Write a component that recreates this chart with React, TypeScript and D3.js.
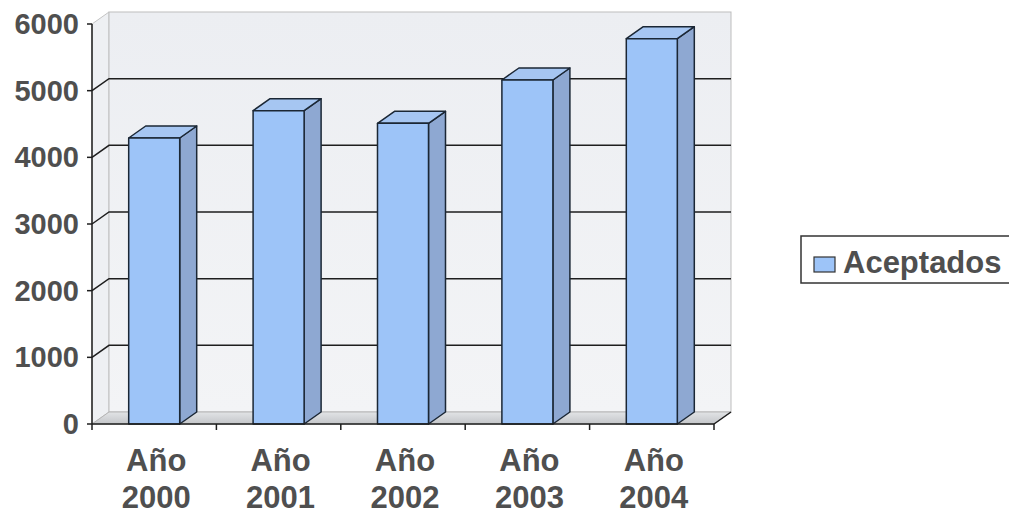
import React from "react";
import * as d3 from "d3";

const categories = ["Año 2000", "Año 2001", "Año 2002", "Año 2003", "Año 2004"];
const aceptados = [4290, 4700, 4510, 5160, 5780];
const yTicks = [0, 1000, 2000, 3000, 4000, 5000, 6000];
const seriesName = "Aceptados";

const W = 1009;
const H = 515;
const X0 = 92;
const X1 = 714;
const Y0 = 424;
const Y1 = 24;
const DX = 17;
const DY = -12;

export default function App() {
  const x = d3.scaleBand<string>().domain(categories).range([X0, X1]).paddingInner(0.59).paddingOuter(0.295);
  const y = d3.scaleLinear().domain([0, 6000]).range([Y0, Y1]);
  const step = x.step();
  const bw = x.bandwidth();
  const textColor = "#4f4f4f";
  const font = "'Liberation Sans', Arial, sans-serif";

  const line = d3.line<[number, number]>();

  return (
    <svg width={W} height={H} style={{ position: "absolute", left: 0, top: 0, background: "#fff" }}>
      <defs>
        <linearGradient id="wall" x1="0" y1="0" x2="0" y2="1">
          <stop offset="0" stopColor="#eceef2" />
          <stop offset="1" stopColor="#f3f4f6" />
        </linearGradient>
        <linearGradient id="floor" x1="0" y1="0" x2="0" y2="1">
          <stop offset="0" stopColor="#e2e4e6" />
          <stop offset="1" stopColor="#c4c6c9" />
        </linearGradient>
      </defs>
      {/* side wall */}
      <path
        d={line([[X0, Y0], [X0, Y1], [X0 + DX, Y1 + DY], [X0 + DX, Y0 + DY]]) + "Z"}
        fill="#eef0f3"
        stroke="#c4c4c4"
      />
      {/* back wall */}
      <rect x={X0 + DX} y={Y1 + DY} width={X1 - X0} height={Y0 - Y1} fill="url(#wall)" stroke="#bdbdbd" />
      {/* floor */}
      <path
        d={line([[X0, Y0], [X1, Y0], [X1 + DX, Y0 + DY], [X0 + DX, Y0 + DY]]) + "Z"}
        fill="url(#floor)"
        stroke="#b5b5b5"
      />
      {/* gridlines */}
      {yTicks.filter((t) => t > 0 && t < 6000).map((t) => (
        <path
          key={"g" + t}
          d={line([[X0, y(t)], [X0 + DX, y(t) + DY], [X1 + DX, y(t) + DY]]) || ""}
          fill="none"
          stroke="#1e1e1e"
          strokeWidth={1.5}
        />
      ))}
      {/* bars */}
      {categories.map((c, i) => {
        const v = aceptados[i];
        const bx = x(c) as number;
        const top = y(v);
        return (
          <g key={c} stroke="#1b2735" strokeWidth={1.5} strokeLinejoin="round">
            <path
              d={line([[bx + bw, Y0], [bx + bw, top], [bx + bw + DX, top + DY], [bx + bw + DX, Y0 + DY]]) + "Z"}
              fill="#8ea8d2"
            />
            <path
              d={line([[bx, top], [bx + DX, top + DY], [bx + bw + DX, top + DY], [bx + bw, top]]) + "Z"}
              fill="#a6c6f2"
            />
            <rect x={bx} y={top} width={bw} height={Y0 - top} fill="#9dc4f8" />
          </g>
        );
      })}
      {/* axes */}
      <line x1={X0} y1={Y1} x2={X0} y2={Y0} stroke="#1e1e1e" strokeWidth={1.5} />
      <line x1={X0} y1={Y0} x2={X1} y2={Y0} stroke="#1e1e1e" strokeWidth={1.5} />
      <line x1={X1} y1={Y0} x2={X1 + DX} y2={Y0 + DY} stroke="#1e1e1e" strokeWidth={1.5} />
      {yTicks.map((t) => (
        <g key={"yt" + t}>
          <line x1={X0 - 5} y1={y(t)} x2={X0} y2={y(t)} stroke="#1e1e1e" strokeWidth={1.5} />
          <text
            x={79}
            y={y(t) + 10}
            textAnchor="end"
            fontFamily={font}
            fontWeight="bold"
            fontSize={29}
            fill={textColor}
          >
            {t}
          </text>
        </g>
      ))}
      {d3.range(categories.length + 1).map((i) => (
        <line key={"xt" + i} x1={X0 + i * step} y1={Y0} x2={X0 + i * step} y2={Y0 + 6} stroke="#1e1e1e" strokeWidth={1.5} />
      ))}
      {categories.map((c) => {
        const cx = (x(c) as number) + bw / 2 + 2;
        const parts = c.split(" ");
        return (
          <text key={"xl" + c} textAnchor="middle" fontFamily={font} fontWeight="bold" fontSize={31} fill={textColor}>
            <tspan x={cx} y={471}>{parts[0]}</tspan>
            <tspan x={cx} y={508}>{parts[1]}</tspan>
          </text>
        );
      })}
      {/* legend */}
      <rect x={801} y={236} width={220} height={47} fill="#fff" stroke="#333" strokeWidth={1.5} />
      <rect x={814} y={257} width={21} height={15} fill="#9dc4f8" stroke="#333" strokeWidth={1.2} />
      <text x={843} y={273} fontFamily={font} fontWeight="bold" fontSize={31} fill={textColor}>
        {seriesName}
      </text>
    </svg>
  );
}
